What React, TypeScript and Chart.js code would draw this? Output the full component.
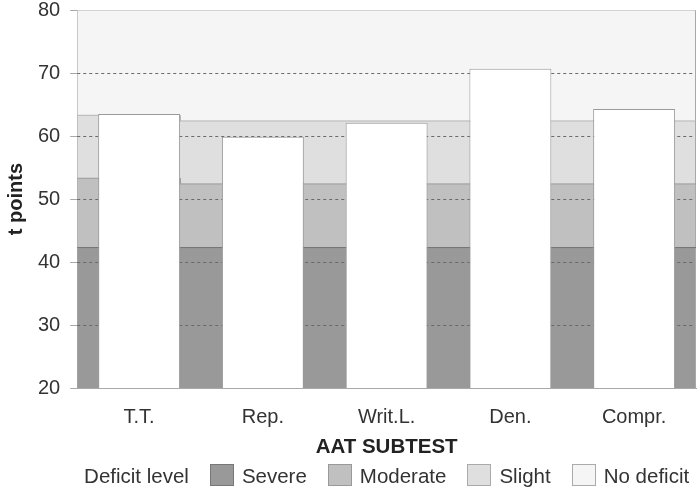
import React, { useEffect, useRef } from 'react';
import { Chart, registerables } from 'chart.js';

Chart.register(...registerables);

// ---- data ----
const categories = ['T.T.', 'Rep.', 'Writ.L.', 'Den.', 'Compr.'];
const tPoints = [63.5, 59.9, 62.1, 70.7, 64.3];
const severeUpper = [42.3, 42.3, 42.3, 42.3, 42.3];
const moderateUpper = [53.3, 52.4, 52.4, 52.4, 52.4];
const slightUpper = [63.3, 62.4, 62.4, 62.4, 62.4];
const noDeficitUpper = [80, 80, 80, 80, 80];
const yTickValues = [20, 30, 40, 50, 60, 70, 80];
const levelNames = ['Severe', 'Moderate', 'Slight', 'No deficit'];
const legendTitle = 'Deficit level';
const xTitle = 'AAT SUBTEST';
const yTitle = 't points';

// ---- styles ----
const FONT = '"Liberation Sans", Arial, sans-serif';
const levelFill = ['#999999', '#c0c0c0', '#dfdfdf', '#f5f5f5'];
const levelBorder = ['#737373', '#999999', '#b4b4b4', '#bbbbbb'];
const legendBorder = ['#777777', '#999999', '#aaaaaa', '#aaaaaa'];
const BAR_PCT = 0.662;

// band of category i runs from the right edge of bar i-1 to the right edge of bar i
function bandSteps(levels: number[]) {
  const h = BAR_PCT / 2;
  const n = levels.length;
  const pts: { x: number; y: number }[] = [];
  levels.forEach((v, i) => {
    const start = i === 0 ? -0.5 : i - 1 + h;
    const end = i === n - 1 ? n - 0.5 : i + h;
    pts.push({ x: start, y: v }, { x: end, y: v });
  });
  return pts;
}

const gridPlugin = {
  id: 'dashedGrid',
  beforeDatasetsDraw(chart: any) {
    const { ctx, chartArea: a, scales } = chart;
    const y = scales.y;
    ctx.save();
    ctx.lineWidth = 1;
    ctx.strokeStyle = '#6a6a6a';
    ctx.setLineDash([3, 3]);
    y.ticks.forEach((t: any) => {
      if (t.value <= y.min || t.value >= y.max) return;
      const py = Math.round(y.getPixelForValue(t.value)) + 0.5;
      ctx.beginPath();
      ctx.moveTo(a.left, py);
      ctx.lineTo(a.right, py);
      ctx.stroke();
    });
    ctx.setLineDash([]);
    ctx.strokeStyle = '#a8a8a8';
    const rx = Math.round(a.right) - 0.5;
    ctx.beginPath();
    ctx.moveTo(rx, a.top);
    ctx.lineTo(rx, a.bottom);
    ctx.stroke();
    ctx.restore();
  },
};

const bottomTextPlugin = {
  id: 'bottomText',
  afterDraw(chart: any) {
    const { ctx, chartArea: a } = chart;
    const cx = (a.left + a.right) / 2;
    ctx.save();
    ctx.fillStyle = '#222';
    ctx.textBaseline = 'alphabetic';
    ctx.textAlign = 'center';
    ctx.font = `bold 20.5px ${FONT}`;
    ctx.fillText(xTitle, cx, 453);

    ctx.font = `20.5px ${FONT}`;
    ctx.textAlign = 'left';
    const gap = 21, box = 24, boxGap = 8;
    let total = ctx.measureText(legendTitle).width;
    levelNames.forEach((n) => {
      total += gap + box + boxGap + ctx.measureText(n).width;
    });
    let x = cx - total / 2;
    const base = 483;
    ctx.fillStyle = '#333';
    ctx.fillText(legendTitle, x, base);
    x += ctx.measureText(legendTitle).width;
    levelNames.forEach((n, i) => {
      x += gap;
      ctx.fillStyle = levelFill[i];
      ctx.fillRect(Math.round(x), 464, box, 22);
      ctx.strokeStyle = legendBorder[i];
      ctx.lineWidth = 1;
      ctx.strokeRect(Math.round(x) + 0.5, 464.5, box - 1, 21);
      x += box + boxGap;
      ctx.fillStyle = '#333';
      ctx.fillText(n, x, base);
      x += ctx.measureText(n).width;
    });
    ctx.restore();
  },
};

export default function App() {
  const ref = useRef<HTMLCanvasElement>(null);

  useEffect(() => {
    const canvas = ref.current;
    if (!canvas) return;
    const bandDs = (levels: number[], i: number, fill: any) => ({
      type: 'line' as const,
      label: levelNames[i],
      data: bandSteps(levels),
      xAxisID: 'xb',
      yAxisID: 'y',
      backgroundColor: levelFill[i],
      borderColor: levelBorder[i],
      borderWidth: 1,
      pointRadius: 0,
      tension: 0,
      fill,
      order: 1,
    });
    const chart = new Chart(canvas, {
      type: 'bar',
      data: {
        labels: categories,
        datasets: [
          {
            type: 'bar',
            label: 'AAT',
            data: tPoints,
            xAxisID: 'x',
            yAxisID: 'y',
            backgroundColor: '#ffffff',
            borderColor: '#9a9a9a',
            borderWidth: 1,
            barPercentage: BAR_PCT,
            categoryPercentage: 1,
            grouped: false,
            order: 0,
          } as any,
          bandDs(severeUpper, 0, 'start'),
          bandDs(moderateUpper, 1, '-1'),
          bandDs(slightUpper, 2, '-1'),
          bandDs(noDeficitUpper, 3, '-1'),
        ],
      },
      options: {
        responsive: false,
        animation: false,
        layout: { padding: { left: 4, right: 4, top: 10, bottom: 45 } },
        plugins: {
          legend: { display: false },
          tooltip: { enabled: false },
          filler: { drawTime: 'beforeDatasetsDraw' } as any,
        },
        scales: {
          x: {
            type: 'category',
            offset: true,
            grid: { display: false, drawTicks: false, tickLength: 0 },
            border: { display: true, color: '#a8a8a8' },
            ticks: { color: '#333', font: { family: FONT, size: 20 }, padding: 17 },
          },
          xb: {
            type: 'linear',
            display: false,
            offset: false,
            min: -0.5,
            max: categories.length - 0.5,
          },
          y: {
            type: 'linear',
            min: yTickValues[0],
            max: yTickValues[yTickValues.length - 1],
            afterBuildTicks: (scale: any) => {
              scale.ticks = yTickValues.map((v) => ({ value: v }));
            },
            grid: {
              display: true,
              drawOnChartArea: false,
              drawTicks: true,
              tickLength: 7,
              color: '#a8a8a8',
            },
            border: { display: true, color: '#a8a8a8' },
            ticks: {
              color: '#333',
              font: { family: FONT, size: 20, lineHeight: 0.01 },
              padding: 10,
            },
            title: {
              display: true,
              text: yTitle,
              color: '#222',
              font: { family: FONT, size: 20, weight: 'bold' },
              padding: { top: 0, bottom: 0 },
            },
          },
        },
      },
      plugins: [gridPlugin, bottomTextPlugin],
    } as any);
    return () => chart.destroy();
  }, []);

  return (
    <div style={{ position: 'fixed', left: 0, top: 0, width: 700, height: 491, background: '#fff' }}>
      <canvas ref={ref} width={700} height={491} style={{ display: 'block', width: 700, height: 491 }} />
    </div>
  );
}
